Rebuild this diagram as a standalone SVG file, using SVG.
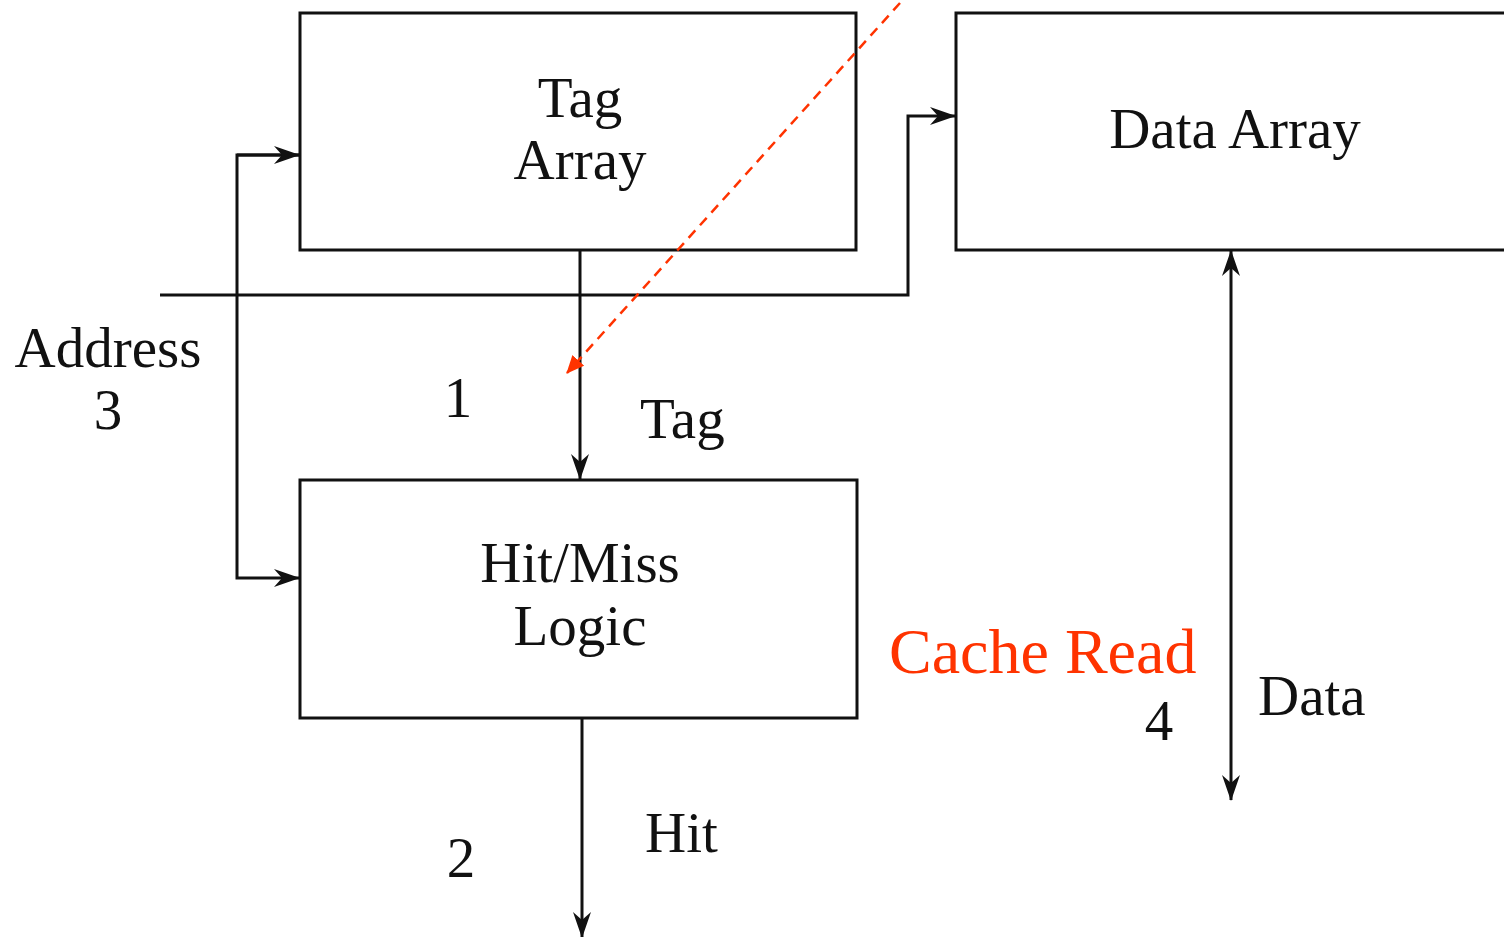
<svg xmlns="http://www.w3.org/2000/svg" width="1504" height="937" viewBox="0 0 1504 937">
<defs>
<marker id="ah" markerWidth="26" markerHeight="18" refX="25" refY="9" orient="auto" markerUnits="userSpaceOnUse">
<path d="M0,0 L26,9 L0,18 L8,9 Z" fill="#111"/>
</marker>
<marker id="ahr" markerWidth="18" markerHeight="16" refX="17" refY="8" orient="auto" markerUnits="userSpaceOnUse">
<path d="M0,0 L18,8 L0,16 Z" fill="#ff3300"/>
</marker>
<style>
.box{fill:#fff;stroke:#111;stroke-width:3}
.ln{fill:none;stroke:#111;stroke-width:3}
.t{font-family:"Liberation Serif","Times New Roman",serif;font-size:57px;fill:#111}
.r{font-family:"Liberation Serif","Times New Roman",serif;font-size:64px;fill:#ff3300}
</style>
</defs>
<rect width="1504" height="937" fill="#fff"/>
<g id="tag-array">
<rect class="box" x="300" y="13" width="556" height="237"/>
<text class="t" x="580" y="117" text-anchor="middle">Tag</text>
<text class="t" x="580" y="179" text-anchor="middle">Array</text>
</g>
<g id="data-array">
<rect class="box" x="956" y="13" width="560" height="237"/>
<text class="t" x="1235" y="148" text-anchor="middle">Data Array</text>
</g>
<g id="hit-miss-logic">
<rect class="box" x="300" y="480" width="557" height="238"/>
<text class="t" x="580" y="582" text-anchor="middle">Hit/Miss</text>
<text class="t" x="580" y="645" text-anchor="middle">Logic</text>
</g>
<g id="connectors">
<polyline class="ln" points="160,295 908,295 908,116 955,116" marker-end="url(#ah)"/>
<polyline class="ln" points="299,155 237,155 237,578 299,578" marker-end="url(#ah)"/>
<line class="ln" x1="237" y1="155" x2="299" y2="155" marker-end="url(#ah)"/>
<line class="ln" x1="580" y1="250" x2="580" y2="479" marker-end="url(#ah)"/>
<line class="ln" x1="582" y1="718" x2="582" y2="937" marker-end="url(#ah)"/>
<line class="ln" x1="1231" y1="520" x2="1231" y2="251" marker-end="url(#ah)"/>
<line class="ln" x1="1231" y1="520" x2="1231" y2="800" marker-end="url(#ah)"/>
<line x1="900" y1="3" x2="567" y2="373" stroke="#ff3300" stroke-width="2.5" stroke-dasharray="10,7" marker-end="url(#ahr)"/>
</g>
<g id="labels">
<text class="t" x="108" y="367" text-anchor="middle">Address</text>
<text class="t" x="108" y="429" text-anchor="middle">3</text>
<text class="t" x="458" y="417" text-anchor="middle">1</text>
<text class="t" x="640" y="438">Tag</text>
<text class="t" x="1258" y="715">Data</text>
<text class="t" x="1159" y="740" text-anchor="middle">4</text>
<text class="t" x="645" y="852">Hit</text>
<text class="t" x="461" y="877" text-anchor="middle">2</text>
<text class="r" x="889" y="673">Cache Read</text>
</g>
</svg>
